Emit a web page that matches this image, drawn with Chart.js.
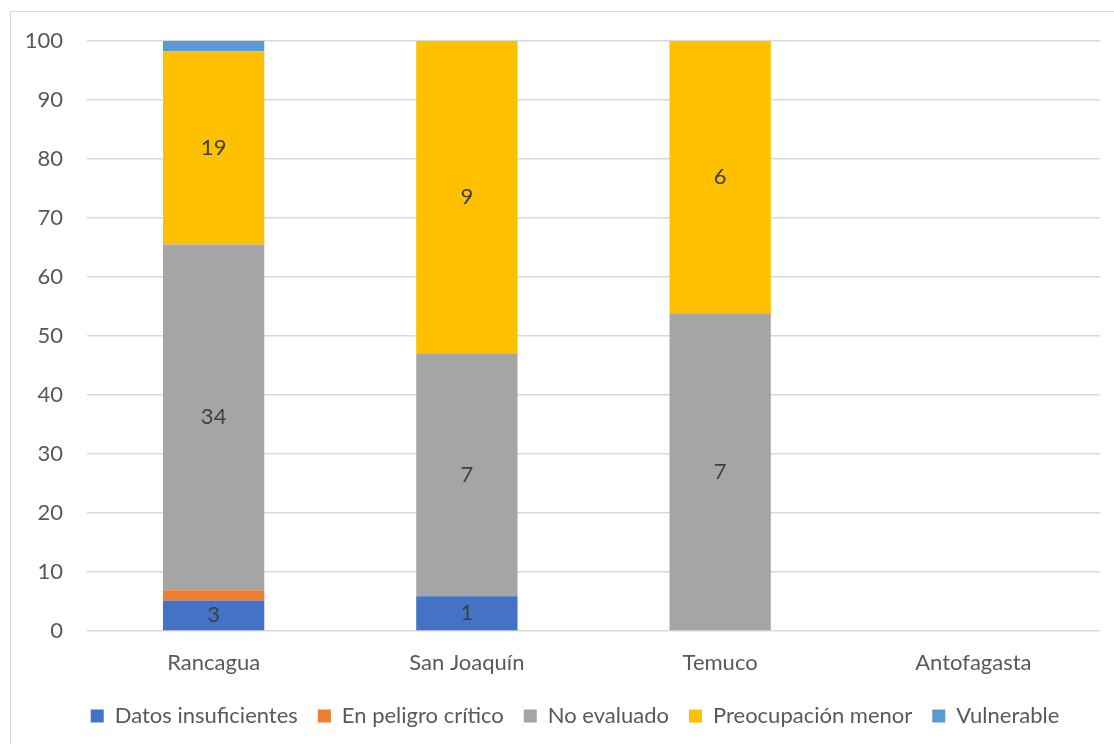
<!DOCTYPE html>
<html lang="es">
<head>
<meta charset="UTF-8">
<title>Estado de conservación por ciudad</title>
<script src="https://cdn.jsdelivr.net/npm/chart.js"></script>
<style>
  body { margin: 0; background: #fff; }
  #wrap { position: relative; width: 1114px; height: 744px; }
</style>
</head>
<body>
<div id="wrap"><canvas id="chart" width="1114" height="744"></canvas></div>
<script>
// categorías y conteos por especie
var ciudades = ["Rancagua", "San Joaquín", "Temuco", "Antofagasta"];
var datosInsuficientes = [3, 1, 0, 0];
var enPeligroCritico = [1, 0, 0, 0];
var noEvaluado = [34, 7, 7, 0];
var preocupacionMenor = [19, 9, 6, 0];
var vulnerable = [1, 0, 0, 0];
var yTicks = [0, 10, 20, 30, 40, 50, 60, 70, 80, 90, 100];

var series = [
  { label: "Datos insuficientes", data: datosInsuficientes, color: "#4472C4", etiqueta: true },
  { label: "En peligro crítico", data: enPeligroCritico, color: "#ED7D31", etiqueta: false },
  { label: "No evaluado", data: noEvaluado, color: "#A5A5A5", etiqueta: true },
  { label: "Preocupación menor", data: preocupacionMenor, color: "#FFC000", etiqueta: true },
  { label: "Vulnerable", data: vulnerable, color: "#5B9BD5", etiqueta: false }
];

// total por ciudad para pasar a porcentaje
var totales = ciudades.map(function (c, i) {
  return series.reduce(function (s, d) { return s + d.data[i]; }, 0);
});

var fuente = "Lato, 'Open Sans', sans-serif";
var tam = 22;

// marco gris del gráfico
var marco = {
  id: "marco",
  beforeDraw: function (chart) {
    var ctx = chart.ctx;
    ctx.save();
    ctx.fillStyle = "#fff";
    ctx.fillRect(0, 0, chart.width, chart.height);
    ctx.strokeStyle = "#d9d9d9";
    ctx.lineWidth = 1;
    ctx.strokeRect(10.5, 11.5, 1120, 740);
    ctx.restore();
  }
};

// la leyenda va centrada un poco más a la derecha
var moverLeyenda = {
  id: "moverLeyenda",
  afterLayout: function (chart) {
    if (chart.legend) {
      chart.legend.left += 25;
      chart.legend.right += 25;
    }
  }
};

// etiquetas con el conteo dentro de las barras
var etiquetas = {
  id: "etiquetas",
  afterDatasetsDraw: function (chart) {
    var ctx = chart.ctx;
    ctx.save();
    ctx.font = tam + "px " + fuente;
    ctx.fillStyle = "#404040";
    ctx.textAlign = "center";
    ctx.textBaseline = "middle";
    chart.data.datasets.forEach(function (ds, di) {
      if (!series[di].etiqueta) return;
      chart.getDatasetMeta(di).data.forEach(function (el, i) {
        var n = series[di].data[i];
        if (!n) return;
        ctx.fillText(String(n), el.x, (el.y + el.base) / 2);
      });
    });
    ctx.restore();
  }
};

new Chart(document.getElementById("chart").getContext("2d"), {
  type: "bar",
  data: {
    labels: ciudades,
    datasets: series.map(function (s) {
      return {
        label: s.label,
        data: s.data.map(function (v, i) { return totales[i] ? v / totales[i] * 100 : 0; }),
        backgroundColor: s.color,
        borderWidth: 0,
        categoryPercentage: 1,
        barPercentage: 0.4
      };
    })
  },
  options: {
    responsive: false,
    animation: false,
    layout: { padding: { top: 41, left: 0, right: 14, bottom: 7 } },
    plugins: {
      tooltip: { enabled: false },
      legend: {
        position: "bottom",
        labels: {
          boxWidth: 13,
          boxHeight: 13,
          padding: 20,
          color: "#595959",
          font: { family: fuente, size: tam }
        }
      }
    },
    scales: {
      x: {
        stacked: true,
        grid: { display: false, drawTicks: false },
        border: { display: false },
        ticks: { color: "#595959", padding: 19, font: { family: fuente, size: tam } },
        afterFit: function (s) { s.height = 54; }
      },
      y: {
        stacked: true,
        min: 0,
        max: 100,
        afterBuildTicks: function (s) { s.ticks = yTicks.map(function (v) { return { value: v }; }); },
        grid: { color: "#d9d9d9", lineWidth: 1.5, drawTicks: false },
        border: { display: false },
        ticks: { color: "#595959", padding: 24, font: { family: fuente, size: tam } },
        afterFit: function (s) { s.width = 87; }
      }
    }
  },
  plugins: [marco, moverLeyenda, etiquetas]
});
</script>
</body>
</html>
